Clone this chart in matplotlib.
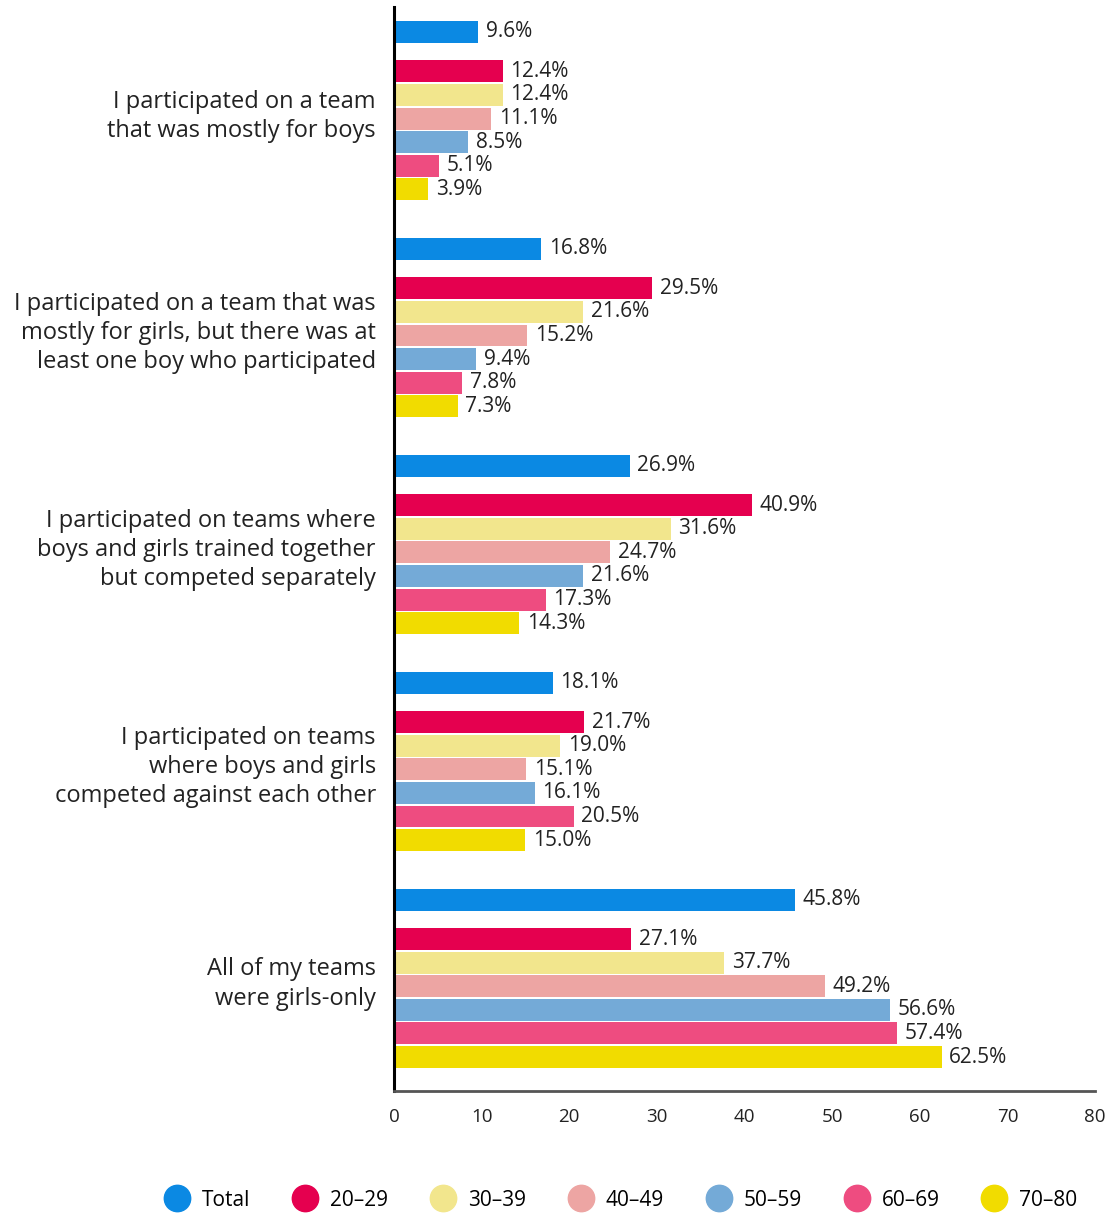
import matplotlib
matplotlib.use("Agg")
import matplotlib.pyplot as plt
from matplotlib.lines import Line2D

plt.rcParams['font.family'] = ['Open Sans', 'DejaVu Sans']

# ---- data ----
categorias = [
    "I participated on a team\nthat was mostly for boys",
    "I participated on a team that was\nmostly for girls, but there was at\nleast one boy who participated",
    "I participated on teams where\nboys and girls trained together\nbut competed separately",
    "I participated on teams\nwhere boys and girls\ncompeted against each other",
    "All of my teams\nwere girls-only",
]
series = ["Total", "20–29", "30–39", "40–49", "50–59", "60–69", "70–80"]
total = [9.6, 16.8, 26.9, 18.1, 45.8]
idade_20_29 = [12.4, 29.5, 40.9, 21.7, 27.1]
idade_30_39 = [12.4, 21.6, 31.6, 19.0, 37.7]
idade_40_49 = [11.1, 15.2, 24.7, 15.1, 49.2]
idade_50_59 = [8.5, 9.4, 21.6, 16.1, 56.6]
idade_60_69 = [5.1, 7.8, 17.3, 20.5, 57.4]
idade_70_80 = [3.9, 7.3, 14.3, 15.0, 62.5]
valores = [total, idade_20_29, idade_30_39, idade_40_49, idade_50_59, idade_60_69, idade_70_80]

cores = ["#0b89e3", "#e5004f", "#f2e68d", "#eda5a3", "#74aad7", "#ee4c80", "#f1dc00"]

# ---- layout (y em unidades de uma barra) ----
PASSO_GRUPO = 9.2      # distância entre grupos
OFFSET_IDADE = 1.67    # espaço entre barra Total e primeira faixa etária
ALTURA = 0.93

fig = plt.figure(figsize=(11.1, 12.15), dpi=100)
ax = fig.add_axes([394 / 1110, 1 - 1091 / 1215, (1095 - 394) / 1110, (1091 - 7) / 1215])

for s, (vals, cor) in enumerate(zip(valores, cores)):
    ys = []
    for g in range(len(categorias)):
        y = g * PASSO_GRUPO
        if s > 0:
            y += OFFSET_IDADE + (s - 1)
        ys.append(y)
    ax.barh(ys, vals, height=ALTURA, color=cor, label=series[s])
    for y, v in zip(ys, vals):
        ax.text(v + 0.85, y, f"{v:.1f}%", va="center", ha="left",
                fontsize=15, color="#222222")

centros = [g * PASSO_GRUPO + (OFFSET_IDADE + 5) / 2 for g in range(len(categorias))]
ax.set_yticks(centros)
ax.set_yticklabels(categorias, fontsize=17, color="#222222", ha="right",
                   linespacing=1.29)
ax.tick_params(axis="y", length=0, pad=13)

ax.set_xlim(0, 80)
ax.set_xticks(range(0, 81, 10))
ax.tick_params(axis="x", length=0, pad=12, labelsize=13.5, labelcolor="#222222")
ax.set_ylim(4 * PASSO_GRUPO + OFFSET_IDADE + 5 + 1.44, -1.06)

for lado in ["top", "right"]:
    ax.spines[lado].set_visible(False)
ax.spines["left"].set_color("#000000")
ax.spines["left"].set_linewidth(2.2)
ax.spines["bottom"].set_color("#555555")
ax.spines["bottom"].set_linewidth(2)

# ---- legenda ----
alcas = [Line2D([], [], marker="o", linestyle="none", markersize=19,
                markerfacecolor=c, markeredgecolor=c, label=n)
         for c, n in zip(cores, series)]
fig.legend(handles=alcas, loc="center", bbox_to_anchor=(621 / 1110, 1 - 1200 / 1215),
           ncol=7, frameon=False, fontsize=15, handletextpad=0.6,
           columnspacing=2.03, handlelength=1.2)

fig.savefig("out.png", dpi=100, facecolor="white")
